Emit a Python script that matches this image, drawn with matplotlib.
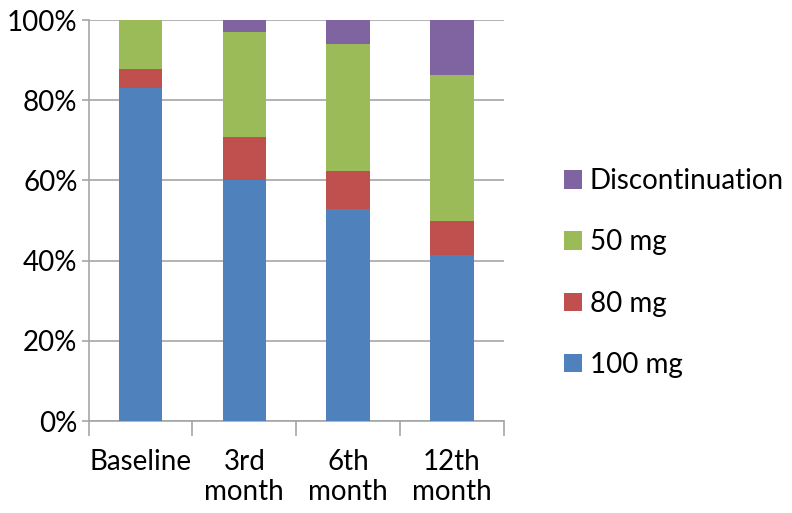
import numpy as np
import matplotlib
matplotlib.use("Agg")
import matplotlib.pyplot as plt
from matplotlib.ticker import PercentFormatter

# Data (share of patients, %)
categories = ["Baseline", "3rd\nmonth", "6th\nmonth", "12th\nmonth"]
dose_100 = [83.0, 60.0, 53.0, 41.3]
dose_80 = [4.7, 10.8, 9.4, 8.7]
dose_50 = [12.3, 26.2, 31.5, 36.4]
discontinuation = [0.0, 3.0, 6.1, 13.6]

series = [("100 mg", dose_100, "#4F81BD"),
          ("80 mg", dose_80, "#C0504D"),
          ("50 mg", dose_50, "#9BBB59"),
          ("Discontinuation", discontinuation, "#8064A2")]

plt.rcParams['font.family'] = ['Lato', 'DejaVu Sans']

fig = plt.figure(figsize=(7.92, 5.13), dpi=100)
ax = fig.add_axes([0.112, 0.179, 0.524, 0.782])

x = np.arange(len(categories))
bottom = np.zeros(len(categories))
for name, vals, color in series:
    ax.bar(x, vals, width=0.42, bottom=bottom, color=color, label=name, zorder=3)
    bottom += np.array(vals)

grey = "#A6A6A6"
ax.set_ylim(0, 100)
ax.set_xlim(-0.5, len(categories) - 0.5)
ax.set_yticks(np.arange(0, 101, 20))
ax.yaxis.set_major_formatter(PercentFormatter(decimals=0))
ax.yaxis.grid(True, color=grey, linewidth=1.2, zorder=0)

ax.set_xticks(x)
ax.set_xticklabels(categories, fontsize=20, linespacing=1.2)
ax.set_xticks(np.arange(-0.5, len(categories)), minor=True)
ax.tick_params(axis='x', which='major', length=0, pad=20)
ax.tick_params(axis='x', which='minor', length=11, color=grey, width=1.2)
ax.tick_params(axis='y', labelsize=20, length=5, color=grey, width=1.2, pad=3)

for side in ['top', 'right']:
    ax.spines[side].set_visible(False)
for side in ['left', 'bottom']:
    ax.spines[side].set_color(grey)
    ax.spines[side].set_linewidth(1.2)

handles, labels = ax.get_legend_handles_labels()
fig.legend(handles[::-1], labels[::-1], loc='center left',
           bbox_to_anchor=(0.68, 0.468), frameon=False, fontsize=20,
           handlelength=0.65, handleheight=0.65, handletextpad=0.3,
           labelspacing=1.27)

fig.savefig("out.png", dpi=100)
